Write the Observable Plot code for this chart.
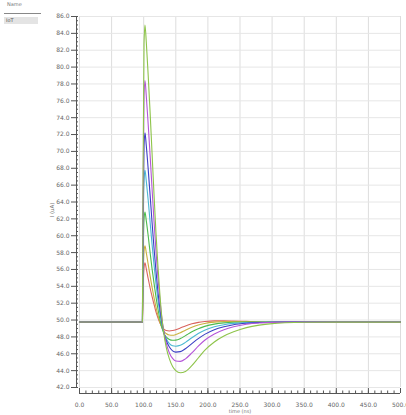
<!DOCTYPE html>
<html><head><meta charset="utf-8">
<script src="https://cdn.jsdelivr.net/npm/d3@7"></script>
<script src="https://cdn.jsdelivr.net/npm/@observablehq/plot@0.6"></script>
<style>
body{margin:0;background:#fff;}
#wrap{position:relative;width:406px;height:415px;overflow:hidden;}
.t{position:absolute;font-family:"DejaVu Sans";color:#777;white-space:nowrap;}
</style></head><body>
<div id="wrap">
  <div class="t" style="left:7px;top:1px;font-size:5px;">Name</div>
  <div style="position:absolute;left:4px;top:13px;width:37px;height:1px;background:#888;"></div>
  <div style="position:absolute;left:4px;top:17px;width:34px;height:7px;background:#e4e4e4;"></div>
  <div class="t" style="left:6px;top:17px;font-size:5px;color:#555;">IoT</div>
  <div class="t" style="left:52px;top:210px;font-size:5.5px;transform:translate(-50%,-50%) rotate(-90deg);">I (uA)</div>
  <div class="t" style="left:240px;top:411px;font-size:5px;transform:translate(-50%,-50%);">time (ns)</div>
</div>
<script>
// time samples (ns)
const times = [0, 97, 98, 99, 100.5, 102, 104, 107, 110, 113, 116, 119, 122, 125, 128, 131, 135, 140, 145, 150, 157, 165, 175, 185, 195, 210, 225, 240, 260, 280, 300, 320, 350, 400, 500];

const seriesNames = ["c1", "c2", "c3", "c4", "c5", "c6", "c7"];
const seriesColors = ["#d9645e", "#c9b13e", "#4dbb4d", "#4bb8d2", "#3a3fc4", "#b455d8", "#8ec44a"];

const c1 = [49.75, 49.75, 49.75, 53.5, 56.2, 56.8, 56.1, 54.9, 53.8, 52.8, 51.9, 51.0, 50.3, 49.7, 49.25, 48.95, 48.75, 48.7, 48.75, 48.85, 49.05, 49.3, 49.55, 49.72, 49.82, 49.9, 49.9, 49.88, 49.84, 49.8, 49.77, 49.76, 49.75, 49.75, 49.75];
const c2 = [49.75, 49.75, 49.75, 54.8, 58.1, 58.8, 58.0, 56.6, 55.2, 53.9, 52.7, 51.6, 50.6, 49.8, 49.15, 48.7, 48.4, 48.22, 48.2, 48.28, 48.5, 48.8, 49.15, 49.42, 49.6, 49.75, 49.82, 49.83, 49.81, 49.78, 49.76, 49.75, 49.75, 49.75, 49.75];
const c3 = [49.75, 49.75, 49.75, 57.0, 61.9, 62.8, 61.8, 60.0, 58.0, 56.1, 54.4, 52.8, 51.4, 50.2, 49.2, 48.5, 48.0, 47.7, 47.6, 47.62, 47.8, 48.15, 48.6, 48.98, 49.25, 49.52, 49.66, 49.73, 49.76, 49.76, 49.75, 49.75, 49.75, 49.75, 49.75];
const c4 = [49.75, 49.75, 49.75, 59.5, 66.5, 67.8, 66.5, 64.2, 61.6, 59.0, 56.6, 54.4, 52.5, 50.9, 49.6, 48.6, 47.8, 47.2, 46.95, 46.9, 47.0, 47.35, 47.9, 48.4, 48.8, 49.2, 49.45, 49.6, 49.7, 49.74, 49.75, 49.75, 49.75, 49.75, 49.75];
const c5 = [49.75, 49.75, 49.75, 61.5, 70.6, 72.2, 70.7, 67.9, 64.8, 61.6, 58.6, 55.9, 53.5, 51.5, 49.9, 48.7, 47.6, 46.8, 46.35, 46.2, 46.25, 46.6, 47.2, 47.8, 48.3, 48.85, 49.2, 49.45, 49.62, 49.7, 49.74, 49.75, 49.75, 49.75, 49.75];
const c6 = [49.75, 49.75, 49.75, 64.5, 76.5, 78.4, 76.6, 73.2, 69.5, 65.6, 61.8, 58.3, 55.2, 52.6, 50.4, 48.8, 47.3, 46.1, 45.45, 45.15, 45.1, 45.4, 46.1, 46.9, 47.6, 48.35, 48.85, 49.2, 49.5, 49.65, 49.72, 49.75, 49.75, 49.75, 49.75];
const c7 = [49.75, 49.75, 49.75, 67.5, 82.7, 85.0, 83.0, 79.0, 74.6, 69.8, 65.0, 60.5, 56.6, 53.3, 50.5, 48.6, 46.8, 45.4, 44.5, 44.0, 43.75, 43.9, 44.6, 45.5, 46.4, 47.4, 48.1, 48.6, 49.1, 49.4, 49.58, 49.68, 49.74, 49.75, 49.75];

// common pre-step segment (drawn gray)
const baseTimes = [0, 98];
const baseValues = [49.75, 49.75];

const xMajor = [0, 50, 100, 150, 200, 250, 300, 350, 400, 450, 500];
const xMinor = d3.range(0, 501, 10);
const yMajor = [42, 44, 46, 48, 50, 52, 54, 56, 58, 60, 62, 64, 66, 68, 70, 72, 74, 76, 78, 80, 82, 84, 86];
const yMinor = d3.range(42, 86.01, 0.5);

const allSeries = [c1, c2, c3, c4, c5, c6, c7];
const rows = [];
allSeries.forEach((vals, k) => times.forEach((t, i) => rows.push({t, v: vals[i], s: seriesNames[k]})));
const baseRows = baseTimes.map((t, i) => ({t, v: baseValues[i]}));
const blank = () => "";

const chart = Plot.plot({
  width: 406, height: 415,
  marginLeft: 79, marginRight: 6, marginTop: 16, marginBottom: 28,
  style: {fontFamily: "DejaVu Sans", fontSize: "6px", color: "#666", background: "#fff"},
  x: {domain: [0, 500]},
  y: {domain: [42, 86]},
  color: {domain: seriesNames, range: seriesColors},
  marks: [
    Plot.gridX(xMajor, {stroke: "#ddd", strokeOpacity: 1}),
    Plot.gridY(yMajor, {stroke: "#e6e6e6", strokeOpacity: 1}),
    Plot.line(rows, {x: "t", y: "v", z: "s", stroke: "s", strokeWidth: 1.1, curve: "monotone-x"}),
    Plot.line(baseRows, {x: "t", y: "v", stroke: "#888", strokeWidth: 1.3}),
    Plot.axisY(yMinor, {tickSize: -2, dx: -3, tickFormat: blank, label: null, stroke: "#555"}),
    Plot.axisY(yMajor, {tickSize: 5, tickPadding: 2, dx: -3, tickFormat: d => d.toFixed(1), fontSize: 6, label: null, stroke: "#555", fill: "#666"}),
    Plot.ruleX([0], {dx: -3, stroke: "#555"}),
    Plot.ruleY([42], {dy: 6, stroke: "#555"}),
    Plot.axisX(xMinor, {tickSize: -2.5, dy: 6, tickFormat: blank, label: null, stroke: "#555"}),
    Plot.axisX(xMajor, {tickSize: -5, tickPadding: 14, dy: 6, tickFormat: d => d.toFixed(1), fontSize: 6, label: null, stroke: "#555", fill: "#666"})
  ]
});
document.getElementById("wrap").prepend(chart);
chart.style.position = "absolute";
chart.style.left = "0";
chart.style.top = "0";
</script>
</body></html>
